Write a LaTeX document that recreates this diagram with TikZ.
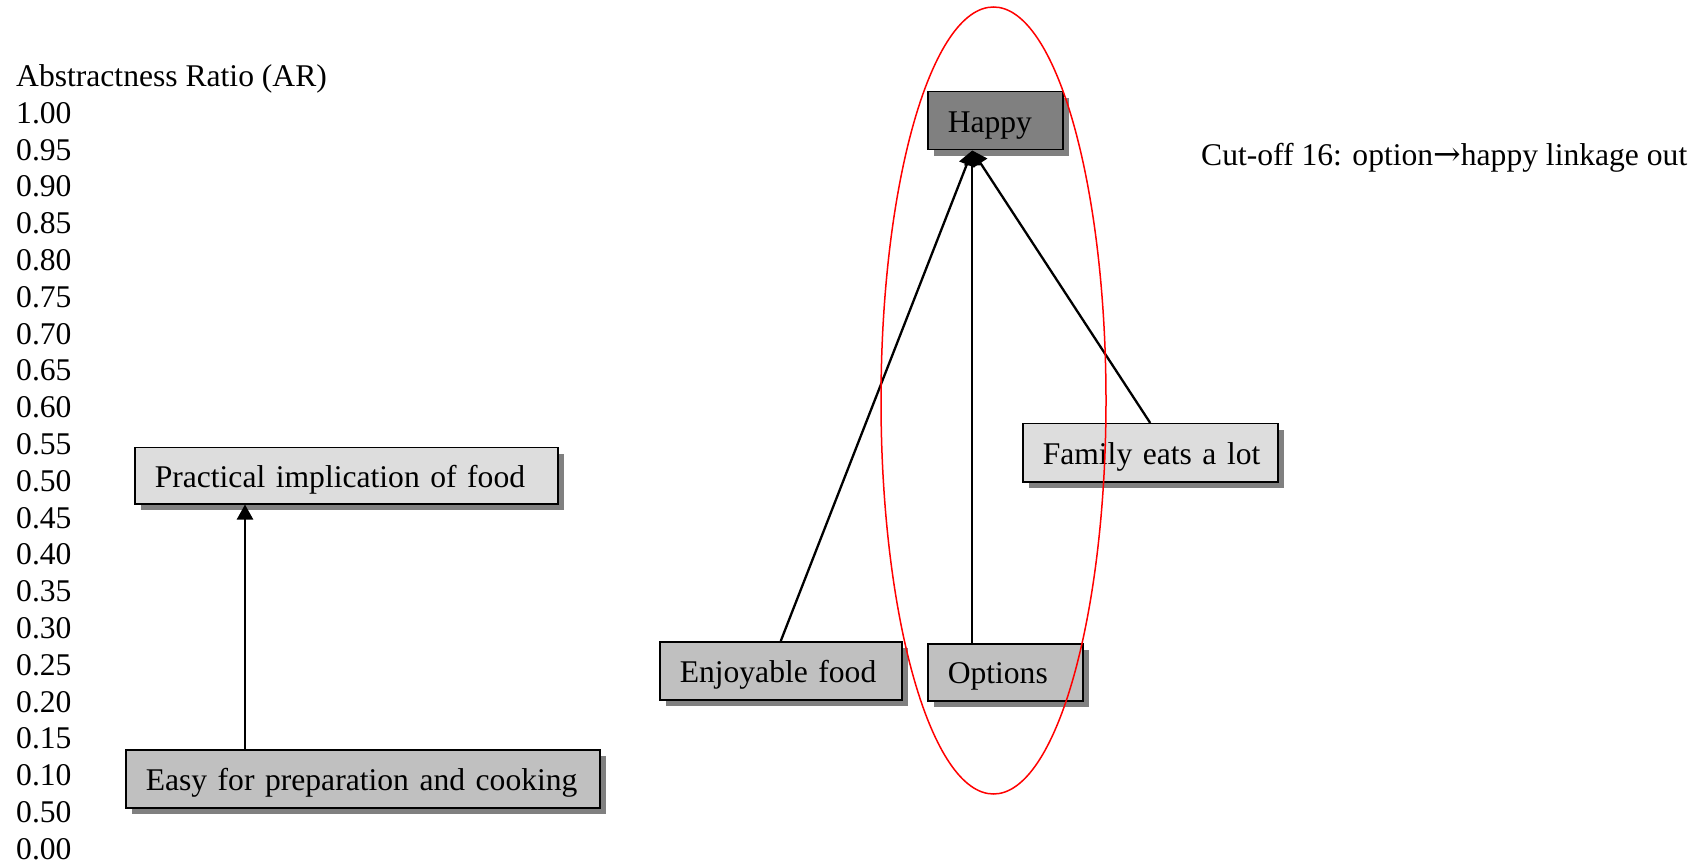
\documentclass[tikz,border=0pt]{standalone}
\usepackage{fontspec}
\setmainfont{Liberation Serif}
\newfontfamily\arrowfont{DejaVu Serif}
\usetikzlibrary{shadows,arrows.meta}

\definecolor{darkfill}{HTML}{808080}
\definecolor{midfill}{HTML}{C0C0C0}
\definecolor{lightfill}{HTML}{DDDDDD}
\definecolor{shadowgray}{HTML}{808080}

\begin{document}
\begin{tikzpicture}[x=1pt,y=-1pt,
  every node/.style={font=\fontsize{31.6}{37}\selectfont},
  axislabel/.style={anchor=base west, inner sep=0pt},
  concept/.style={draw, line width=1.5pt, anchor=north west,
    inner xsep=20pt, inner ysep=0pt, align=left,
    text height=25pt, text depth=2pt,
    drop shadow={shadow xshift=6pt, shadow yshift=-6pt,
      fill=shadowgray, opacity=1}},
  link/.style={line width=2.3pt, -{Triangle[length=15pt,width=16pt]}}]

\useasboundingbox (0,0) rectangle (1706,866);

% vertical scale of abstractness ratios
\node[axislabel] (artitle) at (16,86.5) {Abstractness Ratio (AR)};
\foreach \lab [count=\i] in {1.00,0.95,0.90,0.85,0.80,0.75,0.70,0.65,0.60,0.55,
    0.50,0.45,0.40,0.35,0.30,0.25,0.20,0.15,0.10,0.50,0.00}
  \node[axislabel] (ar\i) at (16,{86.5+36.8*\i}) {\lab};

% concepts
\node[concept, fill=lightfill, text width=383pt, minimum height=56pt]
  (practical) at (134,447) {\mbox{Practical implication of food}};
\node[concept, fill=midfill, text width=434pt, minimum height=58pt]
  (easy) at (125,749) {\mbox{Easy for preparation and cooking}};
\node[concept, fill=darkfill, text width=95pt, minimum height=58pt]
  (happy) at (927,91) {\mbox{Happy}};
\node[concept, fill=midfill, text width=202pt, minimum height=58pt]
  (enjoy) at (659,641) {\mbox{Enjoyable food}};
\node[concept, fill=midfill, text width=115pt, minimum height=57pt]
  (options) at (927,643) {\mbox{Options}};
\node[concept, fill=lightfill, text width=215pt, minimum height=58pt]
  (family) at (1022,423) {\mbox{Family eats a lot}};

% linkages
\draw[link] ([xshift=120pt]easy.north west) -- ([xshift=120pt]easy.north west |- practical.south);
\draw[link] (enjoy.north) -- ([xshift=-23pt]happy.south);
\draw[link] ([xshift=-33pt]options.north) -- ([xshift=-23pt]happy.south);
\draw[link] (family.north) -- ([xshift=-23pt]happy.south);

% note on the removed linkage
\node[axislabel] (cutoff) at (1201,166)
  {Cut-off 16: option{\arrowfont\fontsize{33}{38}\selectfont →}happy linkage out};

% highlighted cluster
\draw[red, line width=1.5pt] (993.5,400.5) ellipse [x radius=112.5, y radius=393.5];

\end{tikzpicture}
\end{document}
